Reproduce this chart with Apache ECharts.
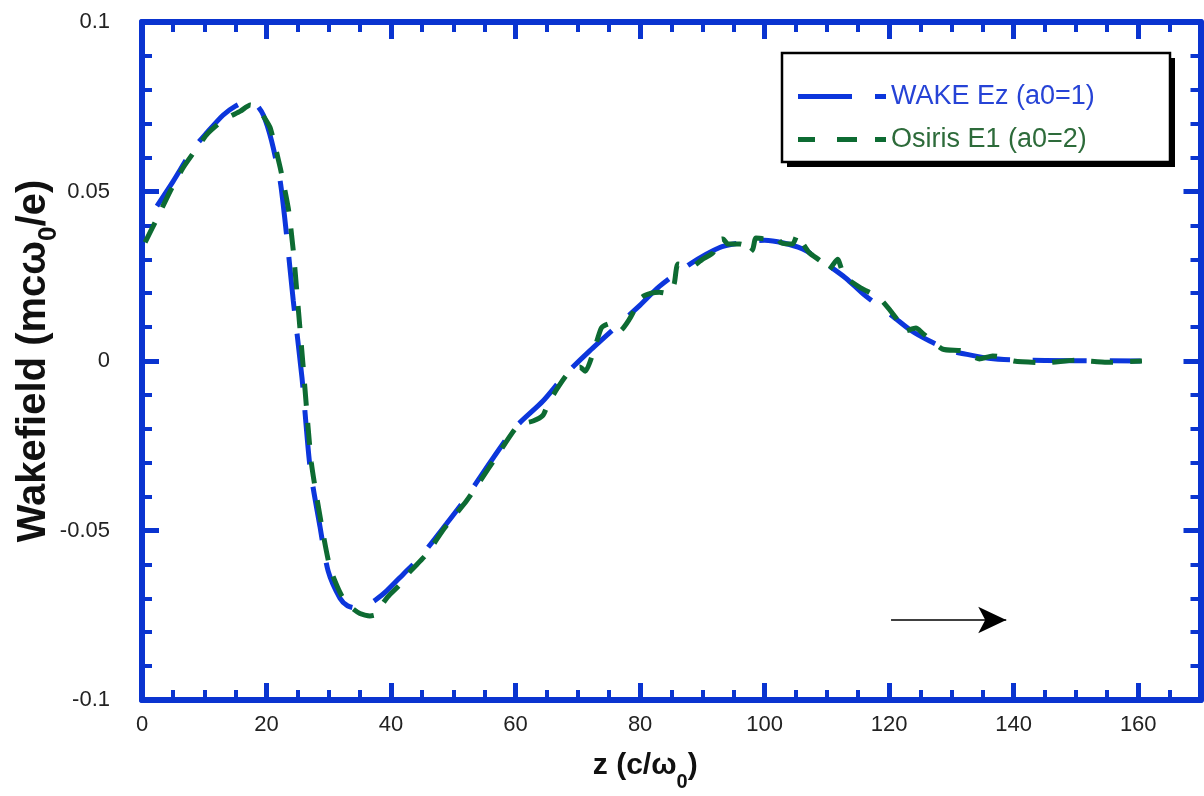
<!DOCTYPE html>
<html><head><meta charset="utf-8">
<script src="https://cdn.jsdelivr.net/npm/echarts@6/dist/echarts.min.js"></script>
<style>html,body{margin:0;padding:0;background:#fff}#c{width:1204px;height:796px}</style>
</head><body><div id="c"></div>
<script>
// ---- data ----
const wakeZ = [2.4, 5.0, 8.2, 10.5, 13.0, 15.0, 16.8, 18.3, 19.5, 20.8, 22.2, 23.2, 24.3, 25.7, 27.0, 28.6, 29.9, 31.8, 33.0, 34.5, 36.0, 37.5, 39.3, 42.0, 44.6, 48.9, 52.0, 56.4, 60.0, 64.4, 68.0, 71.9, 76.7, 80.0, 83.1, 88.0, 92.7, 96.0, 100.0, 103.0, 106.0, 108.5, 113.0, 116.0, 120.5, 123.5, 126.5, 130.0, 132.9, 136.0, 140.0, 150.0, 160.4];
const wakeE = [0.0457, 0.053, 0.0625, 0.0675, 0.0725, 0.0752, 0.0765, 0.0757, 0.0725, 0.065, 0.053, 0.0375, 0.0177, -0.005, -0.0315, -0.049, -0.062, -0.070, -0.0722, -0.0729, -0.0722, -0.0705, -0.0678, -0.0628, -0.058, -0.048, -0.0405, -0.0286, -0.0195, -0.0118, -0.004, 0.003, 0.011, 0.0165, 0.022, 0.0286, 0.0334, 0.0348, 0.0356, 0.0348, 0.0331, 0.0304, 0.0245, 0.0195, 0.0133, 0.009, 0.0059, 0.003, 0.0018, 0.0008, 0.0003, 0.0001, 0.0];

const osirisZ = [0.5, 2.4, 4.5, 6.6, 8.5, 10.5, 13.0, 15.8, 17.4, 18.5, 19.5, 20.6, 22.2, 23.5, 24.3, 24.9, 25.9, 27.2, 28.8, 30.2, 32.0, 33.5, 35.0, 36.6, 37.6, 38.2, 39.5, 41.4, 43.0, 45.7, 48.5, 52.1, 54.3, 57.0, 60.4, 62.8, 64.4, 65.2, 66.8, 68.5, 70.3, 71.2, 72.7, 73.8, 75.1, 76.7, 78.3, 80.2, 81.8, 83.1, 84.7, 85.5, 86.1, 88.4, 90.0, 91.7, 92.2, 93.3, 94.1, 96.0, 96.8, 97.3, 98.1, 98.6, 100.0, 101.9, 102.7, 104.5, 105.3, 106.1, 107.2, 109.3, 110.1, 111.7, 112.8, 115.5, 118.4, 121.1, 122.4, 124.3, 125.3, 128.6, 131.7, 133.2, 134.5, 136.6, 138.5, 140.0, 145.0, 150.0, 155.0, 160.6];
const osirisE = [0.035, 0.042, 0.050, 0.057, 0.062, 0.067, 0.071, 0.0737, 0.0755, 0.0748, 0.0722, 0.0687, 0.057, 0.045, 0.0325, 0.0198, -0.002, -0.030, -0.048, -0.061, -0.069, -0.0725, -0.0745, -0.0752, -0.0748, -0.0728, -0.0695, -0.066, -0.0622, -0.057, -0.0495, -0.0413, -0.0354, -0.028, -0.019, -0.0177, -0.016, -0.0127, -0.0078, -0.0035, -0.0018, -0.003, 0.0038, 0.0098, 0.011, 0.0088, 0.0124, 0.0187, 0.020, 0.0203, 0.0198, 0.023, 0.0286, 0.028, 0.030, 0.0319, 0.0354, 0.036, 0.0345, 0.0345, 0.034, 0.0315, 0.033, 0.0363, 0.036, 0.0363, 0.0348, 0.0345, 0.0375, 0.0348, 0.0319, 0.029, 0.0265, 0.030, 0.025, 0.0215, 0.0186, 0.0127, 0.0088, 0.0097, 0.0083, 0.0035, 0.003, 0.0015, 0.0006, 0.0015, 0.001, 0.0, -0.0005, 0.0002, -0.0004, 0.0];

const seriesNames = ['WAKE Ez (a0=1)', 'Osiris E1 (a0=2)'];
const xTickLabels = [0, 20, 40, 60, 80, 100, 120, 140, 160];
const yTickLabels = [-0.1, -0.05, 0, 0.05, 0.1];
const arrowZ = [120.3, 138.8];
const arrowE = [-0.0764, -0.0764];

// ---- styling ----
const BLUE = '#0a34d0';
const LINE_BLUE = '#0c36dc';
const LINE_GREEN = '#0d6b32';
const FONT = '"Liberation Sans", Arial, Helvetica, sans-serif';
const X_MIN = 0, X_MAX = 170, Y_MIN = -0.1, Y_MAX = 0.1;

function pairs(xs, ys) { return xs.map((x, i) => [x, ys[i]]); }

function xAxisDef(pos, interval, major, withLabels) {
  const a = {
    type: 'value', position: pos, min: X_MIN, max: X_MAX, interval: interval,
    axisLine: { show: major, onZero: false, lineStyle: { color: BLUE, width: 6 } },
    axisTick: { show: true, inside: true, length: major ? 17 : 10, lineStyle: { color: BLUE, width: major ? 5 : 4 } },
    axisLabel: { show: false },
    splitLine: { show: false }
  };
  if (withLabels) {
    a.axisLabel = {
      show: true, margin: 14, color: '#222', fontSize: 22, fontFamily: FONT,
      formatter: v => xTickLabels.includes(v) ? String(v) : ''
    };
    a.name = 'z (c/ω{s|0})';
    a.nameLocation = 'middle';
    a.nameGap = 40;
    a.nameMoveOverlap = false;
    a.nameTextStyle = {
      fontSize: 30, fontWeight: 'bold', color: '#111', fontFamily: FONT,
      padding: [0, 52, 0, 0],
      rich: { s: { fontSize: 20, fontWeight: 'bold', color: '#111', fontFamily: FONT, padding: [32, 0, 0, 0] } }
    };
  }
  return a;
}

function yAxisDef(pos, withLabels) {
  const a = {
    type: 'value', position: pos, min: Y_MIN, max: Y_MAX, interval: 0.05,
    axisLine: { show: true, onZero: false, lineStyle: { color: BLUE, width: 6 } },
    axisTick: { show: true, inside: true, length: 17, lineStyle: { color: BLUE, width: 5 } },
    minorTick: { show: true, splitNumber: 5, length: 10, lineStyle: { color: BLUE, width: 4 } },
    axisLabel: { show: false },
    splitLine: { show: false }
  };
  if (withLabels) {
    a.axisLabel = {
      show: true, margin: 32, color: '#222', fontSize: 22, fontFamily: FONT,
      formatter: v => {
        const hit = yTickLabels.find(t => Math.abs(t - v) < 1e-9);
        return hit === undefined ? '' : String(hit);
      }
    };
    a.name = 'Wakefield (mcω{s|0}/e)';
    a.nameLocation = 'middle';
    a.nameRotate = 90;
    a.nameGap = 80;
    a.nameMoveOverlap = false;
    a.nameTextStyle = {
      fontSize: 40, fontWeight: 'bold', color: '#111', fontFamily: FONT,
      rich: { s: { fontSize: 26, fontWeight: 'bold', color: '#111', fontFamily: FONT, padding: [30, 0, 0, 0] } }
    };
  }
  return a;
}

const chart = echarts.init(document.getElementById('c'), null, { renderer: 'canvas' });
chart.setOption({
  animation: false,
  backgroundColor: '#fff',
  grid: { left: 142, right: 3.5, top: 22, bottom: 96, containLabel: false, outerBoundsMode: 'none' },
  xAxis: [
    xAxisDef('bottom', 20, true, true),
    xAxisDef('bottom', 5, false, false),
    xAxisDef('top', 20, true, false),
    xAxisDef('top', 5, false, false)
  ],
  yAxis: [
    yAxisDef('left', true),
    yAxisDef('right', false)
  ],
  legend: {
    orient: 'vertical', left: 798, top: 83, padding: 0,
    itemWidth: 88, itemHeight: 5, itemGap: 16, selectedMode: false, z: 20,
    symbolKeepAspect: false,
    textStyle: { fontSize: 27, fontFamily: FONT },
    data: [
      { name: seriesNames[0], icon: 'path://M0,0H54V5H0Z M77,0H88V5H77Z', itemStyle: { color: LINE_BLUE }, textStyle: { color: '#2643d6' } },
      { name: seriesNames[1], icon: 'path://M0,0H17V5H0Z M39,0H59V5H39Z M77,0H88V5H77Z', itemStyle: { color: LINE_GREEN }, textStyle: { color: '#2d6b3a' } }
    ]
  },
  graphic: [
    { type: 'rect', z: 10, shape: { x: 787, y: 58, width: 388, height: 109 }, style: { fill: '#000' } },
    { type: 'rect', z: 11, shape: { x: 782, y: 53, width: 388, height: 109 }, style: { fill: '#fff', stroke: '#000', lineWidth: 2.5 } }
  ],
  series: [
    {
      name: seriesNames[0], type: 'line', xAxisIndex: 0, yAxisIndex: 0,
      data: pairs(wakeZ, wakeE), showSymbol: false, symbol: 'none', smooth: 0.25,
      lineStyle: { color: LINE_BLUE, width: 5, type: [54, 23] },
      itemStyle: { color: LINE_BLUE }, z: 3
    },
    {
      name: seriesNames[1], type: 'line', xAxisIndex: 0, yAxisIndex: 0,
      data: pairs(osirisZ, osirisE), showSymbol: false, symbol: 'none', smooth: 0.2,
      lineStyle: { color: LINE_GREEN, width: 5, type: [22, 17] },
      itemStyle: { color: LINE_GREEN }, z: 4
    },
    {
      name: 'arrow', type: 'line', xAxisIndex: 0, yAxisIndex: 0, data: [], silent: true,
      markLine: {
        silent: true, animation: false,
        symbol: ['none', 'arrow'], symbolSize: [20, 28],
        lineStyle: { color: '#000', width: 1.5, type: 'solid' },
        itemStyle: { color: '#000' },
        label: { show: false },
        data: [[{ coord: [arrowZ[0], arrowE[0]] }, { coord: [arrowZ[1], arrowE[1]] }]]
      }
    }
  ]
});
</script>
</body></html>
